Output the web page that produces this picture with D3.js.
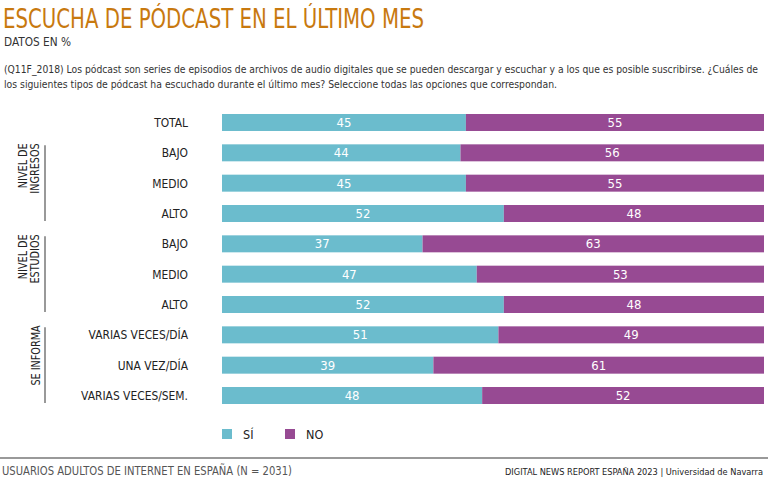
<!DOCTYPE html>
<html><head><meta charset="utf-8">
<script src="https://cdn.jsdelivr.net/npm/d3@7"></script>
<style>
body{margin:0;background:#fff;}
svg{font-family:"DejaVu Sans Condensed","Liberation Sans Narrow","Open Sans",sans-serif;}
</style></head><body>
<svg id="c" width="768" height="488"></svg>
<script>
const categories = ["TOTAL","BAJO","MEDIO","ALTO","BAJO","MEDIO","ALTO","VARIAS VECES/DÍA","UNA VEZ/DÍA","VARIAS VECES/SEM."];
const si = [45,44,45,52,37,47,52,51,39,48];
const no = [55,56,55,48,63,53,48,49,61,52];
const seriesNames = ["SÍ","NO"];
const groups = [
  {label:["NIVEL DE","INGRESOS"], from:1, to:3},
  {label:["NIVEL DE","ESTUDIOS"], from:4, to:6},
  {label:["SE INFORMA"], from:7, to:9}
];
const colors = ["#6bbccd","#974a93"];

const svg = d3.select("#c");
const W=768,H=488;
const squeeze = (sel,f)=>sel.each(function(){const l=this.getComputedTextLength();d3.select(this).attr("textLength",l*f).attr("lengthAdjust","spacingAndGlyphs");});

svg.append("text").attr("x",3).attr("y",28).attr("fill","#c8790f")
  .attr("font-size",26).attr("textLength",421).attr("lengthAdjust","spacingAndGlyphs").text("ESCUCHA DE PÓDCAST EN EL ÚLTIMO MES");
svg.append("text").attr("x",4).attr("y",46).attr("fill","#333").attr("font-size",11.5).attr("textLength",67).attr("lengthAdjust","spacingAndGlyphs").text("DATOS EN %");
const q = ["(Q11F_2018) Los pódcast son series de episodios de archivos de audio digitales que se pueden descargar y escuchar y a los que es posible suscribirse. ¿Cuáles de",
"los siguientes tipos de pódcast ha escuchado durante el último mes? Seleccione todas las opciones que correspondan."];
const qLen=[754,553];
q.forEach((t,i)=>svg.append("text").attr("x",4).attr("y",73+i*14.5).attr("fill","#333").attr("font-size",10).attr("textLength",qLen[i]).attr("lengthAdjust","spacingAndGlyphs").text(t));

const x = d3.scaleLinear().domain([0,100]).range([222,764]);
const y = d3.scaleBand().domain(d3.range(categories.length)).range([114,404]).paddingInner(0.44).paddingOuter(0);

const rows = svg.append("g").selectAll("g").data(categories).join("g");
rows.append("rect").attr("x",x(0)).attr("y",(d,i)=>y(i)).attr("height",y.bandwidth())
  .attr("width",(d,i)=>x(si[i])-x(0)).attr("fill",colors[0]);
rows.append("rect").attr("x",(d,i)=>x(si[i])).attr("y",(d,i)=>y(i)).attr("height",y.bandwidth())
  .attr("width",(d,i)=>x(si[i]+no[i])-x(si[i])).attr("fill",colors[1]);
rows.append("text").attr("x",(d,i)=>(x(0)+x(si[i]))/2).attr("y",(d,i)=>y(i)+y.bandwidth()/2+4.5)
  .attr("text-anchor","middle").attr("fill","#fff").attr("font-size",13).text((d,i)=>si[i]);
rows.append("text").attr("x",(d,i)=>(x(si[i])+x(si[i]+no[i]))/2).attr("y",(d,i)=>y(i)+y.bandwidth()/2+4.5)
  .attr("text-anchor","middle").attr("fill","#fff").attr("font-size",13).text((d,i)=>no[i]);
const cl = rows.append("text").attr("x",188).attr("y",(d,i)=>y(i)+y.bandwidth()/2+4.5)
  .attr("text-anchor","end").attr("fill","#222").attr("font-size",13).text(d=>d);
squeeze(cl,0.915);

groups.forEach(g=>{
  const y0 = y(g.from)+1, y1 = y(g.to)+y.bandwidth()-1;
  svg.append("line").attr("x1",45).attr("x2",45).attr("y1",y0).attr("y2",y1).attr("stroke","#555").attr("stroke-width",1.2);
  const t = svg.append("text").attr("transform",`translate(0,${y0-2}) rotate(-90)`).attr("text-anchor","end")
    .attr("font-size",12.5).attr("fill","#222");
  const n=g.label.length;
  const ts = t.selectAll("tspan").data(g.label).join("tspan").attr("x",0).attr("y",(l,k)=> n===1?40: 27+k*11.5).text(l=>l);
  squeeze(ts,0.86);
});

const leg = svg.append("g").selectAll("g").data(seriesNames).join("g")
  .attr("transform",(d,i)=>`translate(${222+i*63},429)`);
leg.append("rect").attr("width",10).attr("height",10).attr("fill",(d,i)=>colors[i]);
leg.append("text").attr("x",21).attr("y",10).attr("font-size",12.5).attr("fill","#222").text(d=>d);

svg.append("line").attr("x1",0).attr("x2",W).attr("y1",458).attr("y2",458).attr("stroke","#777").attr("stroke-width",1.5);
svg.append("text").attr("x",2).attr("y",475).attr("font-size",12).attr("fill","#555").attr("textLength",290).attr("lengthAdjust","spacingAndGlyphs").text("USUARIOS ADULTOS DE INTERNET EN ESPAÑA (N = 2031)");
svg.append("text").attr("x",505).attr("y",475).attr("font-size",9).attr("fill","#222").attr("textLength",258).attr("lengthAdjust","spacingAndGlyphs").text("DIGITAL NEWS REPORT ESPAÑA 2023 | Universidad de Navarra");
</script></body></html>
